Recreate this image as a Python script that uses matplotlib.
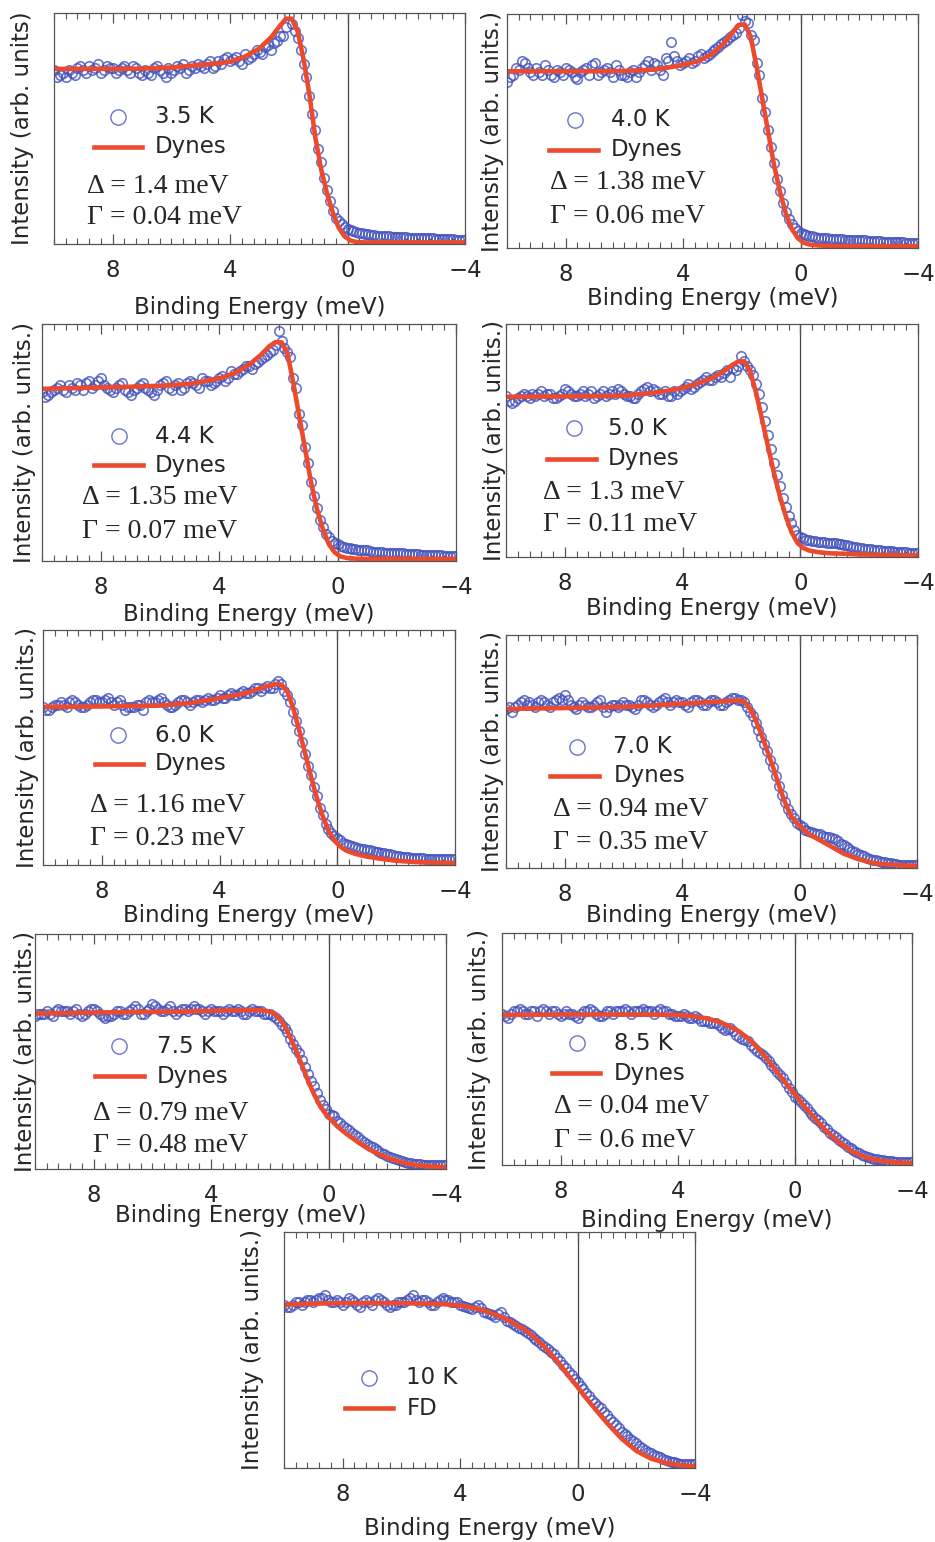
import numpy as np
import matplotlib.pyplot as plt
from matplotlib.ticker import MultipleLocator

# measurement energies (meV), shared by all panels
energy = [10.0, 9.8, 9.6, 9.4, 9.2, 9.0, 8.8, 8.6, 8.4, 8.2,
          8.0, 7.8, 7.6, 7.4, 7.2, 7.0, 6.8, 6.6, 6.4, 6.2,
          6.0, 5.8, 5.6, 5.4, 5.2, 5.0, 4.8, 4.6, 4.4, 4.2,
          4.0, 3.8, 3.6, 3.4, 3.2, 3.0, 2.8, 2.6, 2.4, 2.2,
          2.0, 1.8, 1.6, 1.4, 1.2, 1.0, 0.8, 0.6, 0.4, 0.2,
          0.0, -0.2, -0.4, -0.6, -0.8, -1.0, -1.2, -1.4, -1.6, -1.8,
          -2.0, -2.2, -2.4, -2.6, -2.8, -3.0, -3.2, -3.4, -3.6, -3.8,
          -4.0]
energy_mid = [9.9, 9.7, 9.5, 9.3, 9.1, 8.9, 8.7, 8.5, 8.3, 8.1,
              7.9, 7.7, 7.5, 7.3, 7.1, 6.9, 6.7, 6.5, 6.3, 6.1,
              5.9, 5.7, 5.5, 5.3, 5.1, 4.9, 4.7, 4.5, 4.3, 4.1,
              3.9, 3.7, 3.5, 3.3, 3.1, 2.9, 2.7, 2.5, 2.3, 2.1,
              1.9, 1.7, 1.5, 1.3, 1.1, 0.9, 0.7, 0.5, 0.3, 0.1,
              -0.1, -0.3, -0.5, -0.7, -0.9, -1.1, -1.3, -1.5, -1.7, -1.9,
              -2.1, -2.3, -2.5, -2.7, -2.9, -3.1, -3.3, -3.5, -3.7, -3.9]

# energies where the fitted curves were read
fit_energy = [10, 9, 8, 7, 6, 5, 4.5, 4, 3.5, 3, 2.6, 2.3, 2.1, 1.9, 1.7, 1.5, 1.3,
              1.1, 0.9, 0.7, 0.5, 0.3, 0.1, -0.1, -0.3, -0.6, -1.0, -1.5, -2.0,
              -2.5, -3.0, -3.5, -4.0]

temps = ["3.5 K", "4.0 K", "4.4 K", "5.0 K", "6.0 K", "7.0 K", "7.5 K", "8.5 K", "10 K"]
fit_names = ["Dynes"] * 8 + ["FD"]
gaps = ["1.4", "1.38", "1.35", "1.3", "1.16", "0.94", "0.79", "0.04", None]
gammas = ["0.04", "0.06", "0.07", "0.11", "0.23", "0.35", "0.48", "0.6", None]

data_35 = [.75, .73, .72, .74, .76, .75, .77, .76, .74, .77,
           .76, .75, .77, .74, .76, .73, .74, .76, .75, .72,
           .74, .77, .78, .75, .76, .77, .78, .76, .79, .80,
           .79, .81, .78, .80, .82, .83, .85, .84, .88, .90,
           .99, .92, .84, .72, .56, .41, .28, .18, .11, .08,
           .06, .05, .045, .04, .035, .03, .03, .028, .027, .025,
           .024, .022, .022, .02, .02, .018, .017, .016, .015, .014, .013]
mid_35 = [.72, .74, .75, .73, .77, .74, .75, .78, .75, .76,
          .74, .76, .75, .77, .74, .75, .73, .77, .74, .76,
          .75, .76, .74, .77, .78, .76, .79, .77, .78, .81,
          .80, .79, .82, .81, .84, .82, .86, .87, .90, .94,
          .95, .89, .78, .64, .49, .35, .23, .14, .095, .07,
          .055, .048, .042, .038, .033, .03, .029, .027, .026, .024,
          .023, .022, .021, .02, .019, .017, .016, .015, .014, .013]
data_40 = [.71, .74, .76, .79, .75, .77, .74, .76, .73, .75,
           .77, .75, .72, .76, .74, .79, .75, .77, .73, .76,
           .74, .75, .73, .77, .80, .79, .76, .81, .88, .80,
           .79, .81, .80, .83, .82, .84, .86, .88, .90, .92,
           .995, .96, .89, .74, .58, .43, .29, .19, .12, .08,
           .06, .05, .045, .04, .04, .035, .035, .033, .03, .03,
           .028, .028, .025, .025, .022, .022, .02, .02, .018, .018, .015]
mid_40 = [.73, .77, .80, .77, .74, .75, .78, .74, .76, .74,
          .76, .73, .75, .77, .78, .74, .76, .75, .78, .74,
          .73, .76, .75, .78, .76, .78, .74, .80, .82, .78,
          .80, .79, .82, .81, .83, .85, .87, .89, .91, .94,
          .97, .91, .79, .64, .50, .36, .24, .15, .10, .07,
          .055, .048, .042, .04, .037, .035, .033, .031, .03, .029,
          .028, .026, .025, .024, .022, .021, .02, .019, .018, .016]
data_44 = [.71, .70, .72, .74, .71, .73, .75, .72, .76, .74,
           .77, .73, .71, .74, .72, .70, .73, .75, .72, .70,
           .74, .76, .72, .75, .73, .76, .74, .77, .76, .75,
           .77, .76, .80, .79, .81, .82, .83, .85, .87, .89,
           .97, .90, .86, .73, .57, .41, .27, .17, .11, .08,
           .065, .055, .05, .045, .04, .04, .035, .033, .03, .03,
           .028, .027, .025, .025, .022, .022, .02, .02, .018, .018, .016]
mid_44 = [.69, .71, .73, .72, .74, .72, .74, .75, .73, .76,
          .74, .72, .73, .75, .71, .72, .74, .73, .71, .72,
          .75, .73, .74, .72, .75, .75, .73, .76, .74, .76,
          .78, .77, .79, .80, .82, .81, .84, .86, .88, .91,
          .93, .88, .77, .62, .48, .33, .22, .14, .095, .07,
          .06, .052, .048, .043, .04, .037, .034, .032, .03, .029,
          .028, .026, .025, .023, .022, .021, .02, .019, .018, .017]
data_50 = [.69, .66, .68, .70, .68, .69, .71, .70, .68, .69,
           .72, .70, .69, .71, .70, .68, .70, .69, .71, .72,
           .70, .69, .68, .71, .73, .72, .70, .71, .69, .70,
           .72, .74, .73, .75, .77, .76, .78, .79, .77, .80,
           .86, .82, .78, .70, .58, .46, .35, .25, .17, .11,
           .08, .07, .065, .06, .058, .055, .055, .05, .045, .04,
           .035, .03, .028, .025, .022, .02, .018, .016, .015, .013, .012]
mid_50 = [.67, .67, .69, .69, .70, .70, .69, .70, .68, .70,
          .71, .69, .70, .69, .71, .69, .71, .70, .70, .71,
          .69, .68, .70, .72, .71, .71, .70, .69, .71, .71,
          .73, .72, .74, .76, .76, .77, .77, .80, .81, .82,
          .84, .80, .74, .64, .52, .40, .30, .21, .14, .09,
          .075, .068, .062, .06, .057, .056, .053, .048, .042, .038,
          .032, .029, .026, .024, .021, .019, .017, .015, .014, .012]
data_60 = [.67, .66, .68, .69, .67, .70, .68, .67, .69, .70,
           .69, .71, .68, .70, .66, .67, .68, .66, .70, .69,
           .71, .68, .67, .69, .70, .68, .70, .69, .71, .70,
           .72, .71, .73, .72, .74, .73, .75, .74, .76, .75,
           .78, .74, .69, .61, .52, .42, .33, .24, .17, .13,
           .11, .09, .08, .07, .065, .06, .055, .05, .045, .04,
           .035, .03, .028, .025, .025, .022, .022, .02, .02, .02, .02]
mid_60 = [.66, .67, .68, .68, .69, .69, .67, .68, .70, .69,
          .70, .69, .69, .68, .67, .67, .68, .69, .69, .70,
          .69, .67, .68, .70, .69, .69, .70, .70, .70, .71,
          .71, .72, .72, .73, .73, .74, .75, .75, .75, .77,
          .77, .72, .65, .57, .47, .38, .29, .21, .15, .12,
          .10, .085, .075, .068, .062, .058, .052, .048, .042, .038,
          .032, .029, .026, .025, .023, .022, .021, .02, .02, .02]
data_70 = [.68, .67, .70, .72, .71, .69, .72, .70, .71, .73,
           .74, .70, .68, .71, .69, .70, .72, .67, .70, .69,
           .71, .70, .68, .72, .71, .69, .71, .73, .70, .72,
           .71, .69, .72, .71, .70, .72, .71, .70, .72, .73,
           .72, .69, .65, .59, .53, .46, .39, .31, .25, .21,
           .18, .16, .15, .14, .135, .13, .12, .10, .085, .07,
           .055, .045, .035, .028, .022, .017, .013, .01, .009, .008, .008]
mid_70 = [.69, .69, .71, .70, .70, .71, .71, .69, .72, .72,
          .72, .69, .70, .70, .69, .71, .69, .69, .70, .70,
          .70, .69, .70, .72, .70, .70, .72, .71, .71, .71,
          .70, .71, .72, .70, .71, .72, .70, .71, .73, .72,
          .71, .67, .62, .56, .50, .43, .35, .28, .23, .19,
          .17, .155, .145, .14, .13, .125, .11, .095, .078, .062,
          .05, .04, .031, .025, .019, .015, .011, .01, .008, .008]
data_75 = [.65, .66, .67, .65, .68, .67, .66, .68, .65, .67,
           .68, .66, .64, .65, .67, .66, .67, .69, .66, .67,
           .70, .68, .67, .69, .66, .68, .67, .69, .68, .66,
           .68, .67, .66, .68, .67, .67, .66, .68, .67, .66,
           .66, .64, .61, .58, .53, .49, .43, .37, .32, .27,
           .23, .22, .19, .17, .15, .13, .11, .095, .08, .065,
           .05, .04, .032, .025, .02, .017, .014, .012, .012, .01, .01]
mid_75 = [.66, .66, .66, .67, .67, .67, .67, .66, .66, .68,
          .67, .65, .65, .66, .67, .66, .68, .68, .66, .68,
          .69, .67, .68, .67, .67, .68, .68, .68, .67, .67,
          .67, .67, .67, .67, .68, .66, .67, .67, .67, .66,
          .65, .63, .60, .55, .51, .46, .40, .35, .29, .25,
          .225, .20, .18, .16, .14, .12, .10, .088, .072, .058,
          .045, .036, .028, .022, .018, .015, .013, .012, .011, .01]
data_85 = [.65, .63, .66, .67, .65, .66, .64, .67, .65, .66,
           .64, .66, .65, .63, .66, .67, .65, .64, .66, .65,
           .66, .67, .65, .66, .67, .66, .65, .67, .66, .65,
           .64, .65, .63, .64, .62, .62, .61, .60, .58, .59,
           .56, .54, .53, .50, .48, .46, .43, .40, .37, .33,
           .29, .27, .24, .21, .19, .16, .135, .115, .095, .075,
           .06, .045, .035, .025, .02, .016, .012, .01, .01, .009, .01]
mid_85 = [.64, .65, .66, .66, .65, .66, .66, .66, .66, .65,
          .65, .65, .64, .65, .66, .66, .64, .65, .66, .66,
          .66, .66, .66, .66, .66, .66, .66, .66, .65, .64,
          .64, .64, .63, .63, .62, .61, .61, .59, .585, .575,
          .55, .535, .515, .49, .47, .445, .415, .385, .35, .31,
          .28, .255, .225, .20, .175, .15, .125, .105, .085, .068,
          .052, .04, .03, .022, .018, .014, .011, .01, .01, .009]
data_100 = [.69, .68, .70, .69, .71, .70, .72, .73, .70, .71,
            .69, .72, .70, .68, .71, .69, .72, .70, .68, .69,
            .70, .71, .73, .70, .71, .69, .70, .72, .71, .70,
            .69, .68, .67, .69, .66, .65, .64, .66, .62, .61,
            .59, .58, .56, .54, .52, .50, .48, .45, .42, .39,
            .36, .33, .30, .27, .25, .22, .19, .165, .14, .12,
            .10, .08, .065, .05, .04, .03, .022, .016, .012, .01, .012]
mid_100 = [.68, .69, .70, .70, .71, .71, .72, .71, .70, .70,
           .70, .71, .69, .70, .70, .71, .71, .69, .69, .70,
           .70, .72, .71, .71, .70, .69, .71, .71, .70, .70,
           .685, .675, .68, .675, .655, .645, .65, .64, .615, .60,
           .585, .57, .55, .53, .51, .49, .465, .435, .405, .375,
           .345, .315, .285, .26, .235, .205, .18, .15, .13, .11,
           .09, .072, .058, .045, .035, .026, .019, .014, .011, .011]

fit_35 = [.757, .757, .757, .758, .763, .774, .78, .788, .81, .846, .895, .945, .975,
          .975, .92, .80, .645, .46, .32, .215, .13, .065, .028, .01, .004, .002,
          .002, .002, .002, .002, .002, .002, .002]
fit_40 = [.754, .754, .754, .754, .755, .761, .77, .782, .797, .829, .875, .925, .953,
          .955, .903, .775, .633, .49, .349, .235, .142, .078, .038, .018, .01, .006,
          .004, .003, .003, .003, .003, .003, .003]
fit_44 = [.725, .728, .731, .734, .738, .746, .757, .77, .79, .827, .869, .907, .923,
          .922, .876, .749, .608, .468, .327, .214, .13, .066, .031, .014, .008, .005,
          .004, .004, .004, .004, .004, .004, .004]
fit_50 = [.686, .687, .688, .689, .691, .703, .712, .724, .743, .767, .796, .824, .839,
          .839, .796, .703, .589, .474, .36, .26, .174, .103, .056, .034, .023, .016,
          .011, .009, .006, .005, .004, .003, .003]
fit_60 = [.671, .672, .673, .675, .677, .688, .698, .709, .72, .733, .752, .762, .769,
          .766, .738, .667, .574, .475, .376, .284, .206, .142, .099, .074, .057, .043,
          .031, .021, .013, .009, .006, .005, .004]
fit_70 = [.681, .683, .685, .687, .69, .696, .70, .704, .707, .711, .714, .716, .717,
          .714, .686, .636, .571, .50, .429, .35, .279, .221, .19, .165, .143, .121,
          .093, .057, .033, .017, .01, .006, .003]
fit_75 = [.66, .662, .664, .666, .667, .668, .67, .671, .673, .674, .674, .674, .671,
          .664, .643, .607, .557, .50, .437, .373, .316, .267, .231, .203, .177, .146,
          .11, .071, .043, .023, .011, .006, .003]
fit_85 = [.645, .646, .647, .647, .647, .647, .646, .645, .64, .63, .616, .60, .587,
          .573, .554, .532, .506, .478, .446, .414, .381, .348, .317, .285, .252, .209,
          .151, .094, .05, .024, .012, .006, .003]
fit_100 = [.69, .695, .697, .697, .697, .695, .692, .687, .676, .658, .638, .62, .606,
           .592, .575, .554, .531, .507, .479, .451, .42, .387, .356, .324, .292, .246,
           .187, .12, .068, .035, .017, .007, .003]

data_sets = [data_35, data_40, data_44, data_50, data_60, data_70, data_75, data_85, data_100]
mid_sets = [mid_35, mid_40, mid_44, mid_50, mid_60, mid_70, mid_75, mid_85, mid_100]
fit_sets = [fit_35, fit_40, fit_44, fit_50, fit_60, fit_70, fit_75, fit_85, fit_100]

# panel frames in pixels: left, top, width, height
frames = [(54, 13, 411, 231), (507, 14, 411, 234),
          (42, 324, 414, 237), (506, 324, 412, 233),
          (43, 630, 412, 235), (506, 635, 411, 233),
          (35, 934, 411, 235), (502, 933, 410, 232),
          (284, 1232, 411, 236)]
# legend anchors (axes fraction): marker x, text x, line x0, x1, row1 y, row2 y, delta y, gamma y, delta x
legend_pos = [(0.155, 0.245, 0.097, 0.213, 0.55, 0.42, 0.25, 0.113, 0.08),
              (0.166, 0.252, 0.103, 0.221, 0.548, 0.42, 0.278, 0.135, 0.105),
              (0.185, 0.273, 0.126, 0.243, 0.527, 0.404, 0.27, 0.123, 0.097),
              (0.165, 0.248, 0.100, 0.218, 0.553, 0.421, 0.277, 0.138, 0.089),
              (0.183, 0.272, 0.125, 0.243, 0.553, 0.430, 0.255, 0.114, 0.113),
              (0.172, 0.261, 0.107, 0.227, 0.521, 0.396, 0.253, 0.11, 0.114),
              (0.205, 0.296, 0.146, 0.264, 0.522, 0.394, 0.238, 0.10, 0.14),
              (0.183, 0.272, 0.123, 0.240, 0.525, 0.396, 0.252, 0.104, 0.128),
              (0.208, 0.298, 0.149, 0.266, 0.383, 0.253, None, None, None)]
ylabels = ["Intensity (arb. units)"] + ["Intensity (arb. units.)"] * 8
xlabel_pads = [10.3, 0.9, 3.1, 1.6, 0.9, -1.2, -1.6, 4.5, 8.1]
ylabel_pads = [14.1, 1.8, 4.0, -0.3, 2.6, 1.1, -1.8, 7.6, 14.1]

W, H = 935, 1542
blue = "#4353bd"
red = "#ec4a2c"
ink = "#262626"

plt.rcParams["font.family"] = "DejaVu Sans"
fig = plt.figure(figsize=(W / 100, H / 100), dpi=100)

for k in range(9):
    l, t, w, h = frames[k]
    ax = fig.add_axes([l / W, 1 - (t + h) / H, w / W, h / H])
    ax.plot(energy, data_sets[k], "o", mfc="none", mec=blue, ms=6.8, mew=1.2, alpha=0.8)
    ax.plot(energy_mid, mid_sets[k], "o", mfc="none", mec=blue, ms=6.8, mew=1.2, alpha=0.8)
    ax.plot(fit_energy, fit_sets[k], color=red, lw=3.3, solid_joinstyle="round")
    ax.axvline(0, color="#444444", lw=0.9, zorder=0)
    ax.set_xlim(10, -4)
    ax.set_ylim(-0.005, 1.0)
    ax.set_yticks([])
    ax.xaxis.set_minor_locator(MultipleLocator(0.4))
    ax.set_xticks([8, 4, 0, -4])
    ax.set_xticklabels(["8", "4", "0", "\u22124"])
    ax.tick_params(axis="x", which="both", direction="in", top=True, colors="#555555",
                   labelcolor=ink, labelsize=16.5, pad=10.5)
    ax.tick_params(axis="x", which="major", length=7, width=0.9)
    ax.tick_params(axis="x", which="minor", length=4, width=0.8)
    for s in ax.spines.values():
        s.set_color("#555555")
        s.set_linewidth(0.9)
    ax.set_xlabel("Binding Energy (meV)", fontsize=16.5, color=ink, labelpad=xlabel_pads[k])
    ax.set_ylabel(ylabels[k], fontsize=16.5, color=ink, labelpad=ylabel_pads[k])

    mx, tx, lx0, lx1, y1, y2, yd, yg, dx = legend_pos[k]
    ax.plot([mx], [y1], "o", mfc="none", mec=blue, ms=11, mew=1.0, alpha=0.8,
            transform=ax.transAxes)
    ax.text(tx, y1, temps[k], transform=ax.transAxes, fontsize=16.5, color=ink, va="center")
    ax.plot([lx0, lx1], [y2, y2], color=red, lw=3.3, transform=ax.transAxes)
    ax.text(tx, y2, fit_names[k], transform=ax.transAxes, fontsize=16.5, color=ink, va="center")
    if gaps[k] is not None:
        ax.text(dx, yd, "\u0394 = " + gaps[k] + " meV", transform=ax.transAxes,
                fontsize=20, family="Liberation Serif", color=ink, va="center")
        ax.text(dx, yg, "\u0393 = " + gammas[k] + " meV", transform=ax.transAxes,
                fontsize=20, family="Liberation Serif", color=ink, va="center")

fig.savefig("out.png", dpi=100)
